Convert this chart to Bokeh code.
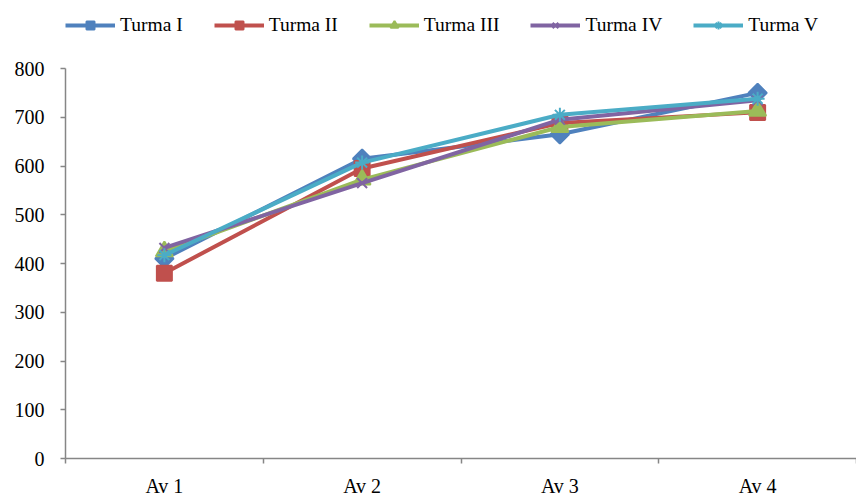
import math
from bokeh.plotting import figure
from bokeh.models import (Range1d, LinearAxis, FixedTicker, Legend, LegendItem, ColumnDataSource)
from bokeh.embed import file_html
from bokeh.resources import INLINE

categories = ["Av 1", "Av 2", "Av 3", "Av 4"]
series_names = ["Turma I", "Turma II", "Turma III", "Turma IV", "Turma V"]
turma_i = [410, 615, 665, 750]
turma_ii = [380, 595, 688, 710]
turma_iii = [425, 572, 680, 713]
turma_iv = [432, 565, 695, 735]
turma_v = [417, 607, 705, 738]
y_ticks = [0, 100, 200, 300, 400, 500, 600, 700, 800]

series_values = [turma_i, turma_ii, turma_iii, turma_iv, turma_v]
colors = ["#4F81BD", "#C0504D", "#9BBB59", "#8064A2", "#4BACC6"]
markers = ["square", "square", "triangle", "x", "asterisk"]
angles = [math.pi / 4, 0, 0, 0, 0]
sizes = [13, 15, 17, 14, 14]

FONT = "Liberation Serif"
AXIS_COLOR = "#868686"

# category slots: each category occupies one unit, centred at i + 0.5
n = len(categories)
centers = [i + 0.5 for i in range(n)]
bounds = [float(i) for i in range(n + 1)]

# the frame reaches the top of the canvas so the legend can sit inside it;
# the y axis line itself is bounded to 0..800
Y_MAX = 800
Y_END = Y_MAX * 458 / 390

p = figure(width=856, height=499, x_range=Range1d(0, n), y_range=Range1d(0, Y_END),
           output_backend="svg", toolbar_location=None,
           x_axis_location=None, y_axis_location=None,
           min_border_left=65, min_border_right=0, min_border_top=0, min_border_bottom=41)
p.outline_line_color = None
p.xgrid.visible = False
p.ygrid.visible = False
p.background_fill_color = "white"
p.border_fill_color = "white"

# y axis
yax = LinearAxis(ticker=FixedTicker(ticks=y_ticks, minor_ticks=[]), bounds=(0, Y_MAX))
yax.axis_line_color = AXIS_COLOR
yax.axis_line_width = 1.5
yax.major_tick_line_color = AXIS_COLOR
yax.major_tick_line_width = 1.5
yax.major_tick_in = 0
yax.major_tick_out = 5
yax.minor_tick_line_color = None
yax.major_label_text_font = FONT
yax.major_label_text_font_size = "20px"
yax.major_label_text_color = "black"
yax.major_label_standoff = 16
p.add_layout(yax, "left")

# x axis: labels at slot centres, tick marks at slot boundaries
xax = LinearAxis(ticker=FixedTicker(ticks=centers, minor_ticks=bounds))
xax.major_label_overrides = {c: cat for c, cat in zip(centers, categories)}
xax.axis_line_color = AXIS_COLOR
xax.axis_line_width = 1.5
xax.major_tick_line_color = None
xax.major_tick_in = 0
xax.major_tick_out = 0
xax.minor_tick_line_color = AXIS_COLOR
xax.minor_tick_line_width = 1.5
xax.minor_tick_in = 0
xax.minor_tick_out = 5
xax.major_label_text_font = FONT
xax.major_label_text_font_size = "20px"
xax.major_label_text_color = "black"
xax.major_label_standoff = 11
p.add_layout(xax, "below")

items = []
for name, vals, col, mk, ang, sz in zip(series_names, series_values, colors, markers, angles, sizes):
    src = ColumnDataSource(dict(x=centers, y=vals))
    ln = p.line("x", "y", source=src, line_color=col, line_width=4)
    sc = p.scatter("x", "y", source=src, marker=mk, angle=ang, size=sz, fill_color=col,
                   line_color=col, line_width=2)
    items.append(LegendItem(label=name, renderers=[ln, sc]))

legend = Legend(items=items, orientation="horizontal", location=(0, 422))
legend.label_text_font = FONT
legend.label_text_font_size = "19.5px"
legend.label_text_color = "black"
legend.glyph_width = 50
legend.glyph_height = 20
legend.label_height = 20
legend.label_standoff = 5
legend.spacing = 31
legend.padding = 0
legend.margin = 0
legend.border_line_color = None
legend.background_fill_alpha = 0
p.add_layout(legend, "center")

open("out.html", "w").write(file_html(p, INLINE))
